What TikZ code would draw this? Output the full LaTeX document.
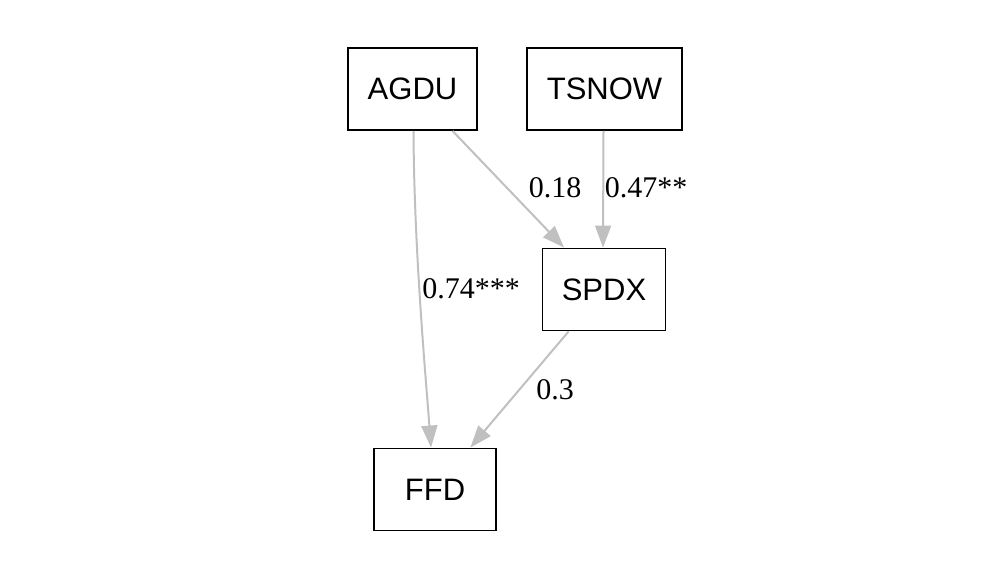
\documentclass[tikz,border=0pt]{standalone}
\usepackage{fontspec}
\setmainfont{Liberation Serif}
\newfontfamily\boxfont{Liberation Sans}
\usetikzlibrary{arrows.meta}
\definecolor{edgegray}{HTML}{C0C0C0}
\tikzset{
  var/.style={draw=black, line width=1.9pt, fill=white, inner xsep=0pt,
    minimum height=82pt, font=\boxfont\fontsize{31}{36}\selectfont},
  path/.style={draw=edgegray, line width=2pt,
    -{Triangle[length=22pt,width=16pt]}},
  coef/.style={font=\fontsize{30}{34}\selectfont, inner sep=0pt}
}
\begin{document}
\begin{tikzpicture}[x=1pt,y=-1pt]
  \useasboundingbox (0,0) rectangle (1000,580);
  % variables
  \node[var, minimum width=129pt] (AGDU)  at (412.5,89) {AGDU};
  \node[var, minimum width=155pt] (TSNOW) at (604.5,89) {TSNOW};
  \node[var, minimum width=123pt] (SPDX)  at (604,289.5) {SPDX};
  \node[var, minimum width=122pt] (FFD)   at (435,489.5) {FFD};
  % paths
  \draw[path] ([xshift=1pt]AGDU.south) .. controls (414,250) and (426,380) .. ([xshift=-4pt]FFD.north);
  \draw[path] (AGDU) -- (SPDX);
  \draw[path] ([xshift=-1pt]TSNOW.south) -- ([xshift=-1pt]SPDX.north);
  \draw[path] (SPDX) -- (FFD);
  % coefficients
  \node[coef] (c1) at (555,188) {0.18};
  \node[coef] (c2) at (646,188) {0.47**};
  \node[coef] (c3) at (471,289) {0.74***};
  \node[coef] (c4) at (555,390) {0.3};
\end{tikzpicture}
\end{document}
